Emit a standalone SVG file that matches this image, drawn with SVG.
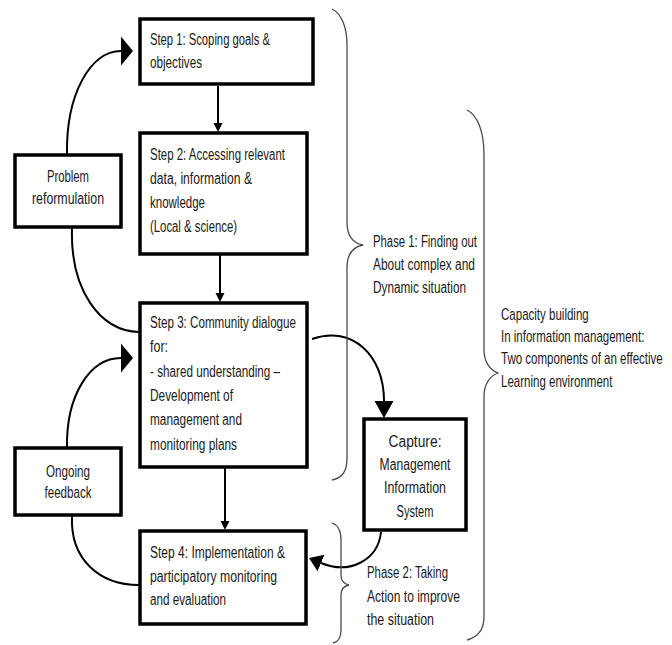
<svg xmlns="http://www.w3.org/2000/svg" width="672" height="645" viewBox="0 0 672 645">
  <style>
    .box { fill: #ffffff; stroke: #000000; stroke-width: 3.5; }
    .conn { fill: none; stroke: #000000; stroke-width: 2; }
    .brace { fill: none; stroke: #4a4a4a; stroke-width: 1.3; }
    text { font-family: "Liberation Sans", Arial, sans-serif; font-size: 16px; fill: #1a1a1a; }
    .mid { text-anchor: middle; }
  </style>
  <defs>
    <marker id="bigHead" markerUnits="userSpaceOnUse" viewBox="0 -15 13 30" refX="0" refY="0" markerWidth="13" markerHeight="30" orient="auto">
      <path d="M0,-14.5 L12,0 L0,14.5 Z" fill="#000"/>
    </marker>
    <marker id="midHead" markerUnits="userSpaceOnUse" viewBox="0 -10 18 20" refX="0" refY="0" markerWidth="18" markerHeight="20" orient="auto">
      <path d="M0,-9.5 L17,0 L0,9.5 Z" fill="#000"/>
    </marker>
    <marker id="sideHead" markerUnits="userSpaceOnUse" viewBox="0 -10 14 20" refX="0" refY="0" markerWidth="14" markerHeight="20" orient="auto">
      <path d="M0,-9 L13,0 L0,9 Z" fill="#000"/>
    </marker>
    <marker id="smallHead" markerUnits="userSpaceOnUse" viewBox="0 -5 10 10" refX="0" refY="0" markerWidth="10" markerHeight="10" orient="auto">
      <path d="M0,-4.5 L9,0 L0,4.5 Z" fill="#000"/>
    </marker>
  </defs>

  <!-- connectors -->
  <g id="connectors">
    <path class="conn" d="M218,86 L218,123" marker-end="url(#smallHead)"/>
    <path class="conn" d="M220,255 L220,293" marker-end="url(#smallHead)"/>
    <path class="conn" d="M225,468 L225,521" marker-end="url(#smallHead)"/>
    <path class="conn" d="M67,154 C66,95 90,51 121,51" marker-end="url(#bigHead)"/>
    <path class="conn" d="M72,228 C70,290 100,331 139,332"/>
    <path class="conn" d="M67,448 C66,395 90,358 121,358" marker-end="url(#bigHead)"/>
    <path class="conn" d="M72,516 C70,560 100,585 139,585"/>
    <path class="conn" d="M312,339 C352,325 384,355 384,401" marker-end="url(#midHead)"/>
    <path class="conn" d="M381,532 C378,560 350,575 321,563" marker-end="url(#sideHead)"/>
  </g>

  <!-- phase braces -->
  <g id="braces">
    <path class="brace" d="M332,9 C342,14 347,28 347,45 L347,222 C347,235 352,243 363,245 C352,247 347,255 347,268 L347,458 C347,472 342,478 332,480"/>
    <path class="brace" d="M467,110 C477,115 484,130 484,155 L484,350 C484,362 490,370 498,373 C490,376 484,384 484,396 L484,617 C484,630 478,637 467,640"/>
    <path class="brace" d="M332,523 C338,525 341,530 341,540 L341,575 C341,581 344,584 349,585 C344,586 341,589 341,595 L341,630 C341,638 338,642 333,643"/>
  </g>

  <g id="step1">
    <rect class="box" x="140" y="19" width="173" height="65"/>
    <text x="150" y="45" textLength="120" lengthAdjust="spacingAndGlyphs">Step 1: Scoping goals &amp;</text>
    <text x="150" y="68" textLength="52" lengthAdjust="spacingAndGlyphs">objectives</text>
  </g>

  <g id="step2">
    <rect class="box" x="140" y="133" width="167" height="121"/>
    <text x="150" y="160" textLength="135" lengthAdjust="spacingAndGlyphs">Step 2: Accessing relevant</text>
    <text x="150" y="184" textLength="102" lengthAdjust="spacingAndGlyphs">data, information &amp;</text>
    <text x="150" y="208" textLength="55" lengthAdjust="spacingAndGlyphs">knowledge</text>
    <text x="150" y="232" textLength="87" lengthAdjust="spacingAndGlyphs">(Local &amp; science)</text>
  </g>

  <g id="step3">
    <rect class="box" x="140" y="303" width="167" height="164"/>
    <text x="150" y="328" textLength="146" lengthAdjust="spacingAndGlyphs">Step 3: Community dialogue</text>
    <text x="150" y="352" textLength="18" lengthAdjust="spacingAndGlyphs">for:</text>
    <text x="150" y="377" textLength="130" lengthAdjust="spacingAndGlyphs">- shared understanding –</text>
    <text x="150" y="401" textLength="83" lengthAdjust="spacingAndGlyphs">Development of</text>
    <text x="150" y="425" textLength="92" lengthAdjust="spacingAndGlyphs">management and</text>
    <text x="150" y="450" textLength="87" lengthAdjust="spacingAndGlyphs">monitoring plans</text>
  </g>

  <g id="step4">
    <rect class="box" x="140" y="531" width="166" height="93"/>
    <text x="150" y="558" textLength="135" lengthAdjust="spacingAndGlyphs">Step 4: Implementation &amp;</text>
    <text x="150" y="582" textLength="127" lengthAdjust="spacingAndGlyphs">participatory monitoring</text>
    <text x="150" y="605" textLength="76" lengthAdjust="spacingAndGlyphs">and evaluation</text>
  </g>

  <g id="problem-reformulation">
    <rect class="box" x="15" y="155" width="106" height="72"/>
    <text class="mid" x="68" y="182" textLength="42" lengthAdjust="spacingAndGlyphs">Problem</text>
    <text class="mid" x="68" y="204" textLength="72" lengthAdjust="spacingAndGlyphs">reformulation</text>
  </g>

  <g id="ongoing-feedback">
    <rect class="box" x="15" y="448" width="106" height="67"/>
    <text class="mid" x="68" y="477" textLength="44" lengthAdjust="spacingAndGlyphs">Ongoing</text>
    <text class="mid" x="68" y="498" textLength="47" lengthAdjust="spacingAndGlyphs">feedback</text>
  </g>

  <g id="capture">
    <rect class="box" x="364" y="419" width="102" height="111"/>
    <text class="mid" x="415" y="447" textLength="53" lengthAdjust="spacingAndGlyphs">Capture:</text>
    <text class="mid" x="415" y="470" textLength="71" lengthAdjust="spacingAndGlyphs">Management</text>
    <text class="mid" x="415" y="493" textLength="62" lengthAdjust="spacingAndGlyphs">Information</text>
    <text class="mid" x="415" y="517" textLength="37" lengthAdjust="spacingAndGlyphs">System</text>
  </g>

  <g id="phase1-label">
    <text x="373" y="247" textLength="104" lengthAdjust="spacingAndGlyphs">Phase 1: Finding out</text>
    <text x="373" y="270" textLength="102" lengthAdjust="spacingAndGlyphs">About complex and</text>
    <text x="373" y="293" textLength="93" lengthAdjust="spacingAndGlyphs">Dynamic situation</text>
  </g>

  <!-- narrow label next to the outer brace, condensed horizontally -->
  <g id="capacity-label" transform="translate(501,0) scale(0.72,1)">
    <text x="0" y="320">Capacity building</text>
    <text x="0" y="342">In information management:</text>
    <text x="0" y="364">Two components  of an effective</text>
    <text x="0" y="387">Learning environment</text>
  </g>

  <g id="phase2-label">
    <text x="367" y="578" textLength="81" lengthAdjust="spacingAndGlyphs">Phase 2: Taking</text>
    <text x="367" y="602" textLength="93" lengthAdjust="spacingAndGlyphs">Action to improve</text>
    <text x="367" y="625" textLength="67" lengthAdjust="spacingAndGlyphs">the situation</text>
  </g>
</svg>
